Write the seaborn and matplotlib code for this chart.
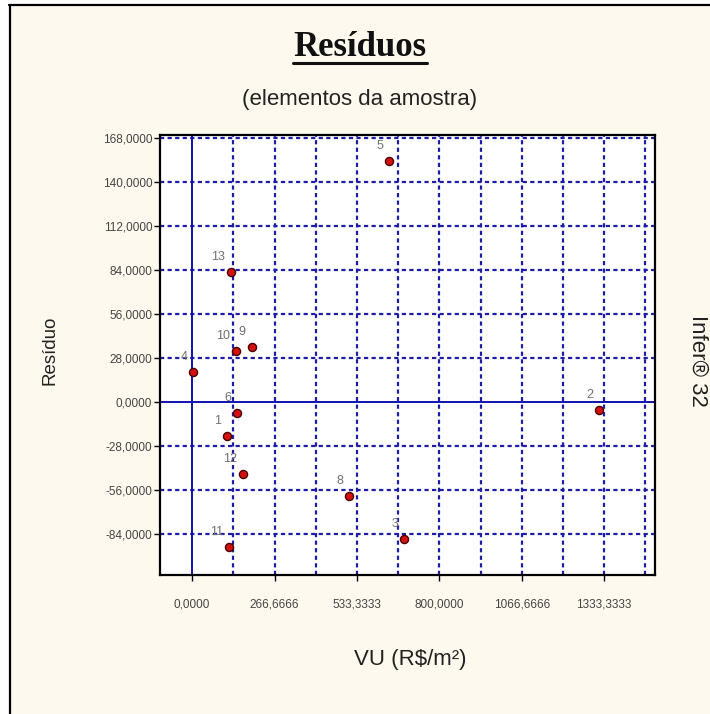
import matplotlib
matplotlib.use("Agg")
import matplotlib.pyplot as plt
from matplotlib.lines import Line2D
from matplotlib.patches import Rectangle
import seaborn as sns
import pandas as pd
import numpy as np

sns.set_theme(style="white")
plt.rcParams["font.family"] = ["Liberation Sans", "DejaVu Sans"]

# sample elements (point number, VU, residual)
labels = ["1", "2", "3", "4", "5", "6", "8", "9", "10", "11", "12", "13"]
vu = [112, 1318, 686, 4, 637, 145, 509, 193, 142, 120, 164, 125]
residuo = [-21.7, -4.9, -87.1, 19.0, 153.2, -7.0, -59.6, 34.9, 32.3, -92.1, -45.5, 83.1]

x_ticks = [0, 266.6666, 533.3333, 800, 1066.6666, 1333.3333]
x_ticklabels = ["0,0000", "266,6666", "533,3333", "800,0000", "1066,6666", "1333,3333"]
y_ticks = [-84, -56, -28, 0, 28, 56, 84, 112, 140, 168]
y_ticklabels = ["-84,0000", "-56,0000", "-28,0000", "0,0000", "28,0000",
                "56,0000", "84,0000", "112,0000", "140,0000", "168,0000"]

df = pd.DataFrame({"id": labels, "vu": vu, "residuo": residuo})

W, H = 710, 714
fig = plt.figure(figsize=(W / 100, H / 100), dpi=100, facecolor="white")

# cream panel with black frame on left/top
cream = "#FEF9EE"
fig.add_artist(Rectangle((9.5 / W, 0), 1, 1 - 5 / H, transform=fig.transFigure,
                         facecolor=cream, edgecolor="none", zorder=0))
fig.add_artist(Line2D([9.5 / W, 9.5 / W], [0, 1 - 4.5 / H], transform=fig.transFigure,
                      color="black", lw=1.6))
fig.add_artist(Line2D([9 / W, 1], [1 - 4.5 / H, 1 - 4.5 / H], transform=fig.transFigure,
                      color="black", lw=1.6))

ax = fig.add_axes([160 / W, 1 - 575 / H, 495 / W, 440 / H])
ax.set_facecolor("white")

grid_c = "#1c1ca8"
dash = (0, (1.9, 1.5))
for gx in np.arange(1, 12) * 1333.3333 / 10:
    ax.axvline(gx, color=grid_c, lw=1.6, linestyle=dash, zorder=1)
for gy in y_ticks:
    if gy != 0:
        ax.axhline(gy, color=grid_c, lw=1.6, linestyle=dash, zorder=1)
ax.axvline(0, color="#1010b0", lw=1.4, zorder=1)
ax.axhline(0, color="#1010b0", lw=1.4, zorder=1)

sns.scatterplot(data=df, x="vu", y="residuo", ax=ax, s=34, color="#d41010",
                edgecolor="#4a0000", linewidth=1.0, zorder=3, legend=False)

for _, r in df.iterrows():
    ax.annotate(r["id"], (r["vu"], r["residuo"]), xytext=(-4.3, 6.5),
                textcoords="offset points", ha="right", va="bottom",
                fontsize=9, color="#707070", zorder=4)

ax.set_xlim(-104, 1498)
ax.set_ylim(-110, 170)
ax.set_xticks(x_ticks)
ax.set_xticklabels(x_ticklabels)
ax.set_yticks(y_ticks)
ax.set_yticklabels(y_ticklabels)
ax.tick_params(axis="x", direction="out", length=4, width=1, color="black",
               pad=13, labelsize=8.5, labelcolor="#444444", bottom=True)
ax.tick_params(axis="y", direction="out", length=4, width=1, color="black",
               pad=1.5, labelsize=8.5, labelcolor="#444444", left=True)
ax.set_xlabel("")
ax.set_ylabel("")
for sp in ax.spines.values():
    sp.set_color("black")
    sp.set_linewidth(1.6)

title = fig.text(360 / W, 1 - 56 / H, "Resíduos", ha="center", va="baseline",
                 fontsize=25, fontweight="bold", family="Liberation Serif", color="#111111")
fig.text(360 / W, 1 - 100 / H, "(elementos da amostra)", ha="center", va="center",
         fontsize=16, color="#222222")
fig.text(410 / W, 1 - 660 / H, "VU (R$/m²)", ha="center", va="center",
         fontsize=16, color="#222222")
fig.text(50 / W, 1 - 350 / H, "Resíduo", ha="center", va="center", rotation=90,
         fontsize=13.5, color="#222222")
fig.text(698 / W, 1 - 361 / H, "Infer® 32", ha="center", va="center", rotation=-90,
         fontsize=16, color="#222222")

# underline the title
fig.canvas.draw()
bb = title.get_window_extent().transformed(fig.transFigure.inverted())
fig.add_artist(Line2D([bb.x0, bb.x1], [1 - 62.5 / H, 1 - 62.5 / H],
                      transform=fig.transFigure, color="#111111", lw=2.2))

fig.savefig("out.png", dpi=100, facecolor=fig.get_facecolor())
